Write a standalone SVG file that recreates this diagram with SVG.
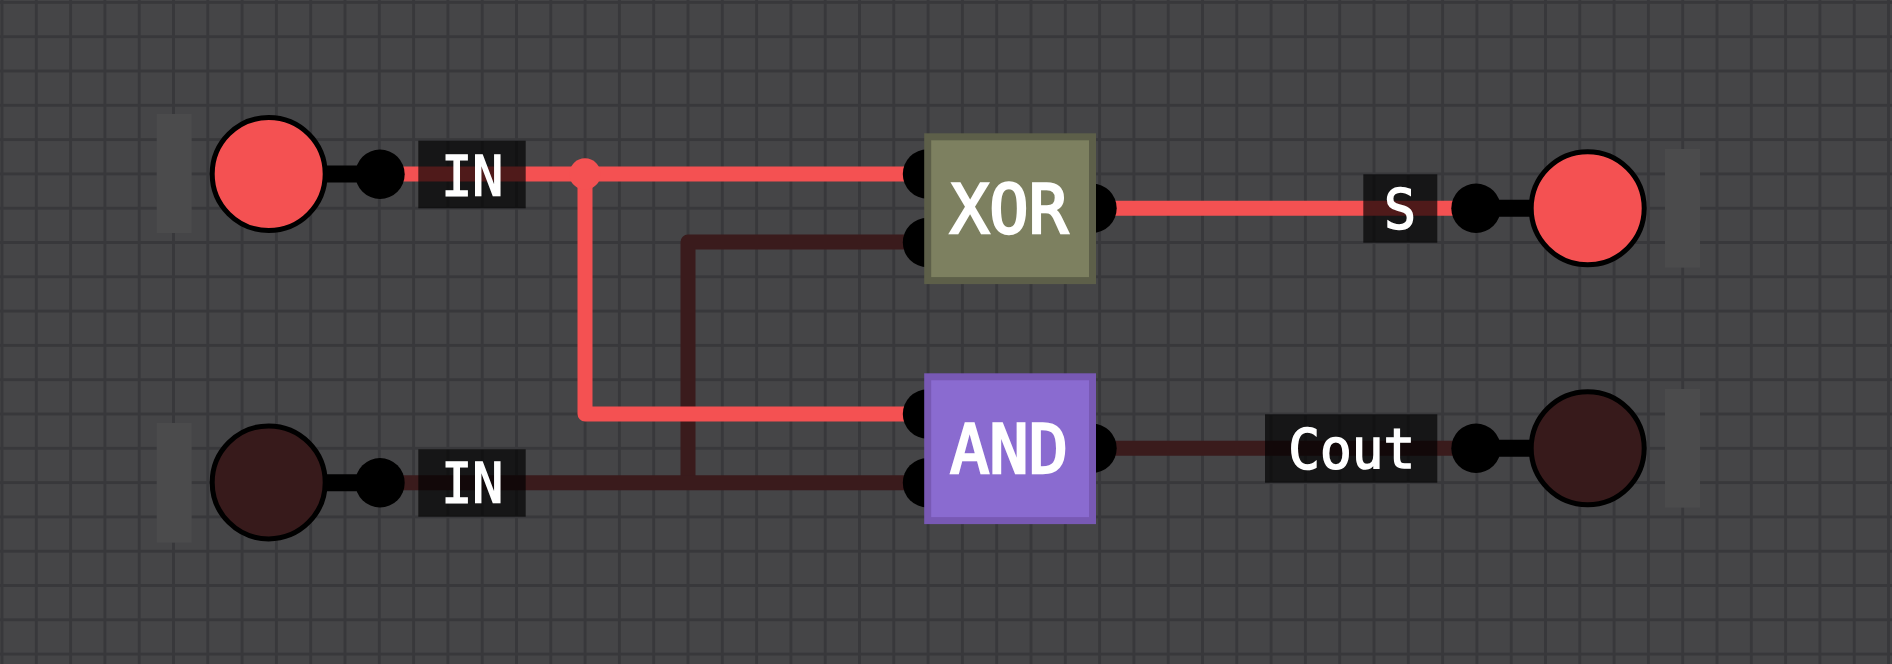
<svg xmlns="http://www.w3.org/2000/svg" width="1892" height="664" viewBox="0 0 1892 664">
<style>
.bar{fill:#4b4b4c}
.on{fill:#f45152}
.off{fill:#371a1b}
.pin{stroke:#000;stroke-width:17;fill:none}
.c{stroke:#000;stroke-width:5}
.port{fill:#000}
.w{fill:none;stroke-width:15;stroke-linejoin:round;stroke-linecap:butt}
.won{stroke:#f45152}
.woff{stroke:#3a1b1c}
.lb{fill:#000;fill-opacity:.68}
.t{font-family:"DejaVu Sans Mono","Liberation Mono",monospace;fill:#fff;stroke:#fff;text-anchor:middle}
.tl{font-size:56px;stroke-width:1.6px}
.tg{font-size:68px;stroke-width:2.6px}
</style>
<defs>
<pattern id="grid" x="-15.15" y="-14.75" width="34.3" height="34.3" patternUnits="userSpaceOnUse">
<rect width="34.3" height="34.3" fill="#454547"/>
<path d="M0 17.15H34.3M17.15 0V34.3" stroke="#38383b" stroke-width="3" fill="none"/>
</pattern>
</defs>
<rect width="1892" height="664" fill="url(#grid)"/>
<g id="connectors">
<path class="w woff" d="M688 482.7V242H927"/>
<path class="w woff" d="M380 482.7H927"/>
<path class="w woff" d="M1092 448.3H1476"/>
<path class="w won" d="M380 174H927"/>
<path class="w won" d="M585 174V414H927"/>
<path class="w won" d="M1092 208.3H1476"/>
<circle class="on" cx="585" cy="174" r="15.7"/>
</g>
<g id="input-a">
<rect class="bar" x="156.7" y="114" width="35" height="119"/>
<path class="pin" d="M268 174H380"/>
<circle class="on c" cx="268.7" cy="174" r="56.5"/>
<circle class="port" cx="380" cy="174.2" r="24.7"/>
<rect class="lb" x="418.3" y="140.7" width="107.4" height="67.6"/>
<text class="t tl" x="472.3" y="194.5" textLength="62" lengthAdjust="spacingAndGlyphs">IN</text>
</g>
<g id="input-b">
<rect class="bar" x="156.7" y="423" width="35" height="119.7"/>
<path class="pin" d="M268 482.7H380"/>
<circle class="off c" cx="268.7" cy="482.4" r="56.5"/>
<circle class="port" cx="380" cy="482.7" r="24.7"/>
<rect class="lb" x="418.3" y="449.3" width="107.4" height="67.4"/>
<text class="t tl" x="472.3" y="502.2" textLength="62" lengthAdjust="spacingAndGlyphs">IN</text>
</g>
<g id="xor">
<circle class="port" cx="927.5" cy="174" r="24.7"/>
<circle class="port" cx="927.5" cy="242.5" r="24.7"/>
<circle class="port" cx="1092" cy="208.3" r="24.7"/>
<rect x="927.7" y="136.8" width="164.8" height="143.8" fill="#7d8060" stroke="#5d5f49" stroke-width="7"/>
<text class="t tg" x="1009" y="232.5" textLength="118" lengthAdjust="spacingAndGlyphs">XOR</text>
</g>
<g id="and">
<circle class="port" cx="927.5" cy="414" r="24.7"/>
<circle class="port" cx="927.5" cy="482.7" r="24.7"/>
<circle class="port" cx="1092" cy="448.3" r="24.7"/>
<rect x="927.7" y="376.8" width="164.8" height="143.8" fill="#8a6bd0" stroke="#7859b4" stroke-width="7"/>
<text class="t tg" x="1009" y="472.5" textLength="118" lengthAdjust="spacingAndGlyphs">AND</text>
</g>
<g id="output-s">
<rect class="bar" x="1665" y="149" width="35" height="118.7"/>
<path class="pin" d="M1476 208.3H1587"/>
<circle class="on c" cx="1587.7" cy="208.3" r="56.5"/>
<circle class="port" cx="1476" cy="208.3" r="24.7"/>
<rect class="lb" x="1363.3" y="174.3" width="74" height="68.4"/>
<text class="t tl" x="1400" y="228" textLength="32" lengthAdjust="spacingAndGlyphs">S</text>
</g>
<g id="output-cout">
<rect class="bar" x="1665" y="389" width="35" height="118.7"/>
<path class="pin" d="M1476 448.3H1587"/>
<circle class="off c" cx="1587.7" cy="448.3" r="56.5"/>
<circle class="port" cx="1476" cy="448.3" r="24.7"/>
<rect class="lb" x="1265" y="414.3" width="172.3" height="68.4"/>
<text class="t tl" x="1351.7" y="468" textLength="127" lengthAdjust="spacingAndGlyphs">Cout</text>
</g>
</svg>
